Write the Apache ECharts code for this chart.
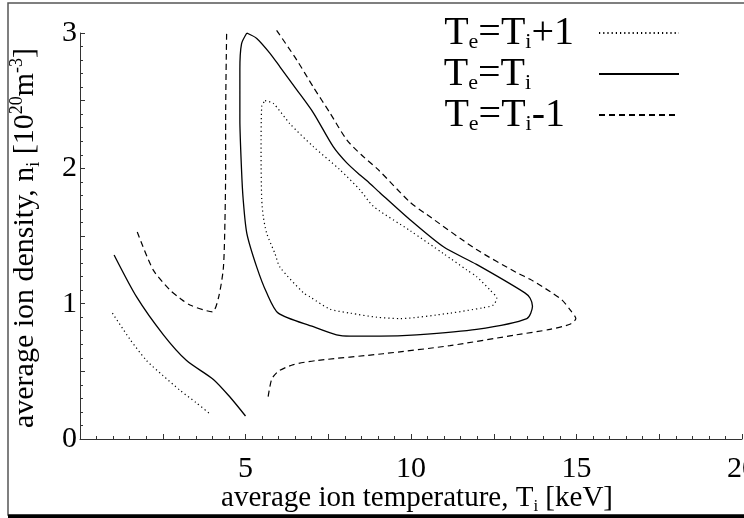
<!DOCTYPE html>
<html>
<head>
<meta charset="utf-8">
<script src="https://cdn.jsdelivr.net/npm/echarts@6/dist/echarts.min.js"></script>
<style>html,body{margin:0;padding:0;background:#fff;}#c{width:744px;height:518px;}</style>
</head>
<body>
<div id="c"></div>
<script>
// ---- data (T_i [keV], n_i [1e20 m^-3]) ----
const seriesNames = ['Te=Ti+1', 'Te=Ti', 'Te=Ti-1'];
const xTickLabels = [5, 10, 15, 20];
const yTickLabels = [0, 1, 2, 3];

const plusOneLow = [[0.98,0.93],[1.5,0.74],[2.01,0.58],[2.5,0.47],[3.02,0.36],[3.5,0.27],[3.93,0.185]];
const plusOneLoop = [[5.59,2.50],[5.84,2.48],[6.34,2.33],[7.05,2.16],[7.85,1.99],[8.46,1.84],[8.86,1.72],[9.97,1.54],[10.98,1.37],[11.68,1.25],[11.98,1.20],[12.39,1.10],[12.59,1.04],[12.49,0.99],[12.18,0.97],[11.18,0.93],[9.67,0.89],[8.96,0.90],[8.16,0.93],[7.55,0.96],[6.95,1.05],[6.75,1.08],[6.04,1.27],[5.89,1.37],[5.64,1.52],[5.54,1.64],[5.49,1.77],[5.47,2.11],[5.49,2.46],[5.59,2.50]];

const equalLow = [[1.03,1.36],[1.71,1.05],[2.52,0.77],[3.22,0.58],[4.03,0.44],[4.53,0.31],[5.0,0.17]];
const equalLoop = [[5.04,3.0],[5.34,2.96],[5.74,2.85],[6.04,2.75],[6.55,2.58],[7.05,2.41],[7.65,2.16],[8.06,2.04],[8.46,1.95],[8.66,1.91],[9.06,1.82],[9.97,1.62],[10.98,1.42],[11.98,1.29],[13.44,1.08],[13.6,1.04],[13.67,0.98],[13.5,0.89],[11.98,0.81],[10.17,0.77],[9.06,0.76],[8.16,0.76],[7.75,0.77],[7.05,0.83],[5.99,0.93],[5.64,1.08],[5.34,1.27],[5.04,1.52],[4.93,1.77],[4.88,1.99],[4.83,2.36],[4.83,2.73],[4.88,2.92],[5.04,3.0]];

const minusOneLeft = [[1.73,1.53],[2.21,1.25],[2.72,1.10],[3.02,1.04],[3.32,0.99],[4.0,0.94],[4.18,1.04],[4.33,1.26],[4.38,1.62],[4.40,2.0],[4.40,2.36],[4.43,3.0]];
const minusOneRight = [[5.94,3.02],[6.55,2.80],[7.05,2.60],[7.55,2.41],[8.06,2.21],[8.5,2.10],[9.01,1.99],[9.97,1.75],[10.47,1.66],[11.98,1.40],[13.19,1.23],[13.6,1.18],[14.2,1.09],[14.55,1.03],[14.82,0.95],[14.98,0.89],[14.82,0.85],[14.2,0.81],[13.19,0.77],[11.18,0.69],[9.16,0.63],[7.15,0.58],[6.45,0.55],[5.99,0.50],[5.79,0.44],[5.67,0.29]];

// ---- chart ----
const FONT = 'Liberation Serif';
const LEG_MAIN = 40, LEG_SUB = 22, LEG_BOX = 150;
const legendParts = {
  'Te=Ti+1': [['m','T'],['s','e'],['m','=T'],['s','i'],['m','+1']],
  'Te=Ti': [['m','T'],['s','e'],['m','=T'],['s','i']],
  'Te=Ti-1': [['m','T'],['s','e'],['m','=T'],['s','i'],['m','-1']]
};
const ctx = document.createElement('canvas').getContext('2d');
function textW(str, size) { ctx.font = size + 'px "' + FONT + '"'; return ctx.measureText(str).width; }
function legendLabel(name) {
  const parts = legendParts[name];
  let w = 0, s = '';
  parts.forEach(function (p) {
    w += textW(p[1], p[0] === 'm' ? LEG_MAIN : LEG_SUB);
    s += '{' + p[0] + '|' + p[1] + '}';
  });
  const pad = Math.max(1, Math.round(LEG_BOX - w));
  return s + '{p' + pad + '|\u00a0}';
}
const legendRich = {
  m: {fontFamily: FONT, fontSize: LEG_MAIN, lineHeight: 40, color: '#000'},
  s: {fontFamily: FONT, fontSize: LEG_SUB, lineHeight: 12, verticalAlign: 'bottom', color: '#000'}
};
for (let i = 1; i <= 200; i++) legendRich['p' + i] = {width: i, fontSize: 4, lineHeight: 4};

const styles = {
  'Te=Ti+1': {type: [1.2, 3], width: 1.2},
  'Te=Ti': {type: 'solid', width: 1.3},
  'Te=Ti-1': {type: [6, 4], width: 1.2}
};
function mk(name, data) {
  return {
    name: name, type: 'line', data: data, symbol: 'none', smooth: 0.25, clip: false,
    lineStyle: {color: '#000', width: styles[name].width, type: styles[name].type},
    itemStyle: {color: '#000'}
  };
}
function axisNameRich(size) {
  return {
    sub: {fontFamily: FONT, fontSize: size, lineHeight: 16, verticalAlign: 'bottom', color: '#000'},
    sup: {fontFamily: FONT, fontSize: size, lineHeight: 4, verticalAlign: 'top', color: '#000'}
  };
}
const chart = echarts.init(document.getElementById('c'), null, {renderer: 'canvas'});
chart.setOption({
  animation: false,
  backgroundColor: '#fff',
  grid: {left: 80, right: 2, top: 33, bottom: 79, containLabel: false, outerBoundsMode: 'none'},
  legend: {
    data: seriesNames,
    orient: 'vertical', align: 'right',
    right: 64, top: 13, padding: 0,
    itemWidth: 80, itemHeight: 14, itemGap: 1,
    itemStyle: {opacity: 0},
    formatter: legendLabel,
    textStyle: {color: '#000', fontFamily: FONT, fontSize: LEG_MAIN, rich: legendRich}
  },
  xAxis: {
    type: 'value', min: 0, max: 20, interval: 2.5,
    name: 'average ion temperature, T{sub|i} [keV]',
    nameLocation: 'middle', nameGap: 42, nameMoveOverlap: false,
    nameTextStyle: {fontFamily: FONT, fontSize: 29, lineHeight: 34, color: '#000', padding: [0, 0, 0, 12], rich: axisNameRich(17)},
    axisLine: {lineStyle: {color: '#333', width: 1}},
    axisTick: {inside: true, length: 5, lineStyle: {color: '#333'}},
    minorTick: {show: true, splitNumber: 5, length: 3, lineStyle: {color: '#333'}},
    splitLine: {show: false},
    axisLabel: {
      fontFamily: FONT, fontSize: 30, color: '#000', margin: 15,
      formatter: function (v) { return xTickLabels.indexOf(v) >= 0 ? String(v) : ''; }
    }
  },
  yAxis: {
    type: 'value', min: 0, max: 3, interval: 0.5,
    name: 'average ion density, n{sub|i} [10{sup|20}m{sup|-3}]',
    nameLocation: 'middle', nameGap: 37, nameMoveOverlap: false,
    nameTextStyle: {fontFamily: FONT, fontSize: 30, lineHeight: 35, color: '#000', padding: [0, 4, 0, 0], rich: axisNameRich(18)},
    axisLine: {show: true, lineStyle: {color: '#333', width: 1}},
    axisTick: {show: true, inside: true, length: 5, lineStyle: {color: '#333'}},
    minorTick: {show: true, splitNumber: 5, length: 3, lineStyle: {color: '#333'}},
    splitLine: {show: false},
    axisLabel: {
      fontFamily: FONT, fontSize: 30, color: '#000', margin: 3,
      formatter: function (v) { return yTickLabels.indexOf(v) >= 0 ? String(v) : ''; }
    }
  },
  graphic: [
    {type: 'rect', silent: true, shape: {x: 8, y: 3, width: 745, height: 512}, style: {fill: 'none', stroke: '#555', lineWidth: 1.5}},
    {type: 'line', silent: true, shape: {x1: 8, y1: 516.5, x2: 744, y2: 516.5}, style: {stroke: '#000', lineWidth: 4}}
  ],
  series: [
    mk('Te=Ti+1', plusOneLow), mk('Te=Ti+1', plusOneLoop),
    mk('Te=Ti', equalLow), mk('Te=Ti', equalLoop),
    mk('Te=Ti-1', minusOneLeft), mk('Te=Ti-1', minusOneRight)
  ]
});
</script>
</body>
</html>
